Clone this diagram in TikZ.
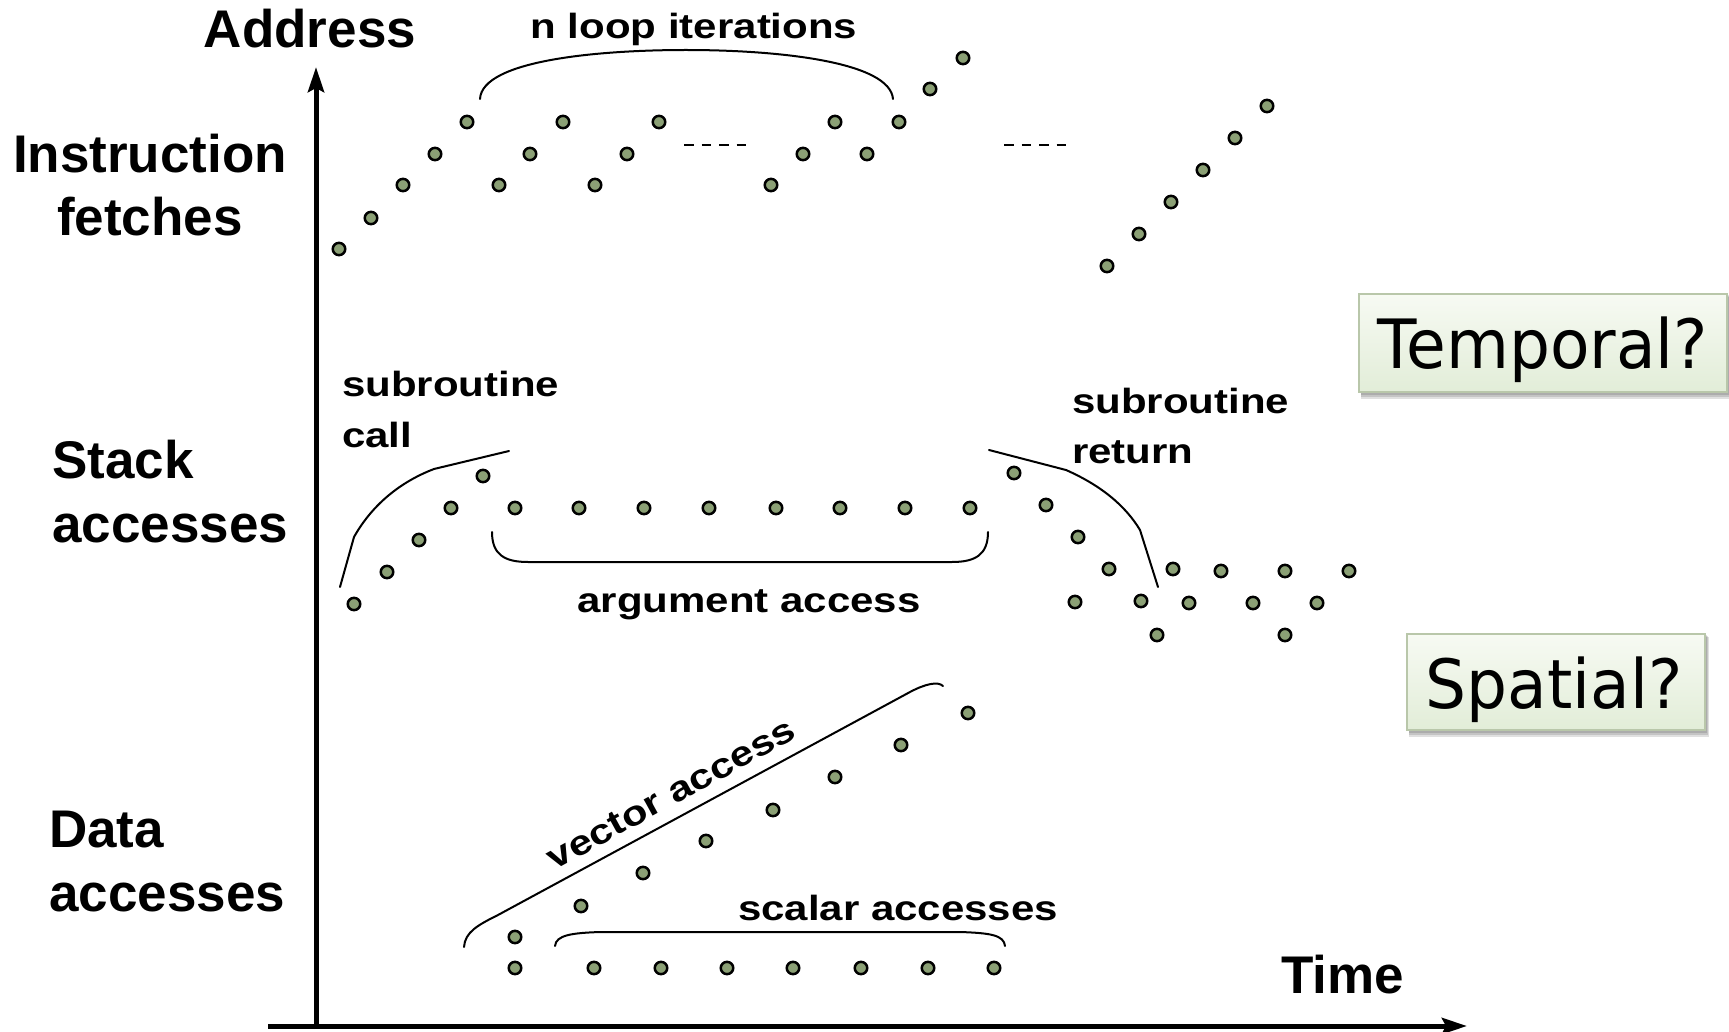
\documentclass[tikz,border=0pt]{standalone}
\usepackage{fontspec}
\setmainfont{Liberation Sans}
\newfontfamily\widefont[FakeStretch=1.2]{Liberation Sans}
\newfontfamily\boxfont[FakeStretch=0.95]{DejaVu Sans}
\usetikzlibrary{shapes.geometric,arrows.meta}

\definecolor{dotfill}{RGB}{139,160,117}
\definecolor{boxedge}{RGB}{185,199,170}
\definecolor{boxtop}{RGB}{247,250,243}
\definecolor{boxbot}{RGB}{226,237,216}

\tikzset{
  access/.style={ellipse, draw=black, line width=2.5pt, fill=dotfill,
    minimum width=12.5pt, minimum height=12.3pt, inner sep=0pt, outer sep=0pt},
  rowlabel/.style={font=\fontsize{53}{60}\selectfont\bfseries, inner sep=0pt},
  note/.style={font=\widefont\fontsize{35}{42}\selectfont\bfseries, inner sep=0pt},
  brace/.style={line width=2pt, line cap=round},
  gap/.style={line width=2.7pt, dash pattern=on 9.5pt off 8pt},
  axis/.style={line width=5pt, -{Stealth[length=25pt, width=16pt, inset=4pt]}},
  question/.style={font=\boxfont\fontsize{68}{80}\selectfont, inner sep=0pt, anchor=base},
  qbox/.style={top color=boxtop, bottom color=boxbot, draw=boxedge, line width=1.5pt},
  qshadow/.style={fill=black, opacity=0.12},
}

\begin{document}
\begin{tikzpicture}[x=1pt, y=-1pt]
\useasboundingbox (0,0) rectangle (1729,1032);
\fill[white] (0,0) rectangle (1729,1032);

% axes
\coordinate (origin) at (316,1026);
\coordinate (ytip) at (316,67);
\coordinate (xstart) at (268,1026);
\coordinate (xtip) at (1467,1026);
\draw[axis] (316,1029) -- (ytip);
\draw[axis] (xstart) -- (xtip);

\node[rowlabel, anchor=base] (address) at (310,48) {Address};
\node[rowlabel, anchor=base west] (time) at (1281,993) {Time};

% row labels
\node[rowlabel, anchor=base] (instr1) at (150,173) {Instruction};
\node[rowlabel, anchor=base] (instr2) at (150,236) {fetches};
\node[rowlabel, anchor=base west] (stack1) at (52,478) {Stack};
\node[rowlabel, anchor=base west] (stack2) at (52,542) {accesses};
\node[rowlabel, anchor=base west] (data1) at (49,847) {Data};
\node[rowlabel, anchor=base west] (data2) at (49,911) {accesses};

% instruction fetches
\foreach \x/\y [count=\i] in {339/249,371/218,403/185,435/154,467/122,
  499/185,530/154,563/122,595/185,627/154,659/122,
  771/185,803/154,835/122,867/154,899/122,930/89,963/58,
  1107/266,1139/234,1171/202,1203/170,1235/138,1267/106}
  \node[access] (fetch\i) at (\x,\y) {};
\draw[gap] (684,145) -- (746,145);
\draw[gap] (1004,145) -- (1066,145);
\draw[brace] (480,99) .. controls (482,60) and (600,50) .. (686,50)
  .. controls (780,50) and (890,62) .. (893,99);
\node[note, anchor=base] (loops) at (694,39) {n loop iterations};

% stack accesses
\foreach \x/\y [count=\i] in {354/604,387/572,419/540,451/508,483/476,
  515/508,579/508,644/508,709/508,776/508,840/508,905/508,970/508,
  1014/473,1046/505,1078/537,1109/569,1075/602,1141/601,1157/635,
  1173/569,1189/603,1221/571,1253/603,1285/571,1285/635,1317/603,1349/571}
  \node[access] (stack\i) at (\x,\y) {};
\draw[brace] (340,587) -- (354,537) .. controls (372,505) and (400,482) .. (434,469)
  -- (509,451);
\draw[brace] (989,450) -- (1066,470) .. controls (1100,485) and (1125,505) .. (1140,530)
  -- (1158,587);
\draw[brace] (492,532) .. controls (492,555) and (505,562) .. (528,562) -- (952,562)
  .. controls (975,562) and (988,555) .. (988,532);
\node[note, anchor=base west] (call1) at (342,396) {subroutine};
\node[note, anchor=base west] (call2) at (342,447) {call};
\node[note, anchor=base west] (ret1) at (1072,413) {subroutine};
\node[note, anchor=base west] (ret2) at (1072,463) {return};
\node[note, anchor=base] (argument) at (749,612) {argument access};

% data accesses
\foreach \x/\y [count=\i] in {515/968,594/968,661/968,727/968,793/968,861/968,928/968,994/968,
  515/937,581/906,643/873,706/841,773/810,835/777,901/745,968/713}
  \node[access] (data\i) at (\x,\y) {};
\draw[brace] (464,947) .. controls (465,932) and (478,925) .. (498,915) -- (910,692)
  .. controls (925,684) and (938,681) .. (943,686);
\draw[brace] (555,946) .. controls (556,935) and (572,933) .. (600,932) -- (960,932)
  .. controls (990,933) and (1004,935) .. (1005,946);
\node[note, rotate=28.7] (vector) at (671,794) {vector access};
\node[note, anchor=base] (scalar) at (898,920) {scalar accesses};

% question boxes
\fill[qshadow] (1361,297) rectangle (1731,399);
\fill[qshadow] (1361,296) rectangle (1730,397);
\fill[qshadow] (1361,295) rectangle (1729,395);
\shadedraw[qbox] (1359,294) rectangle (1727,392);
\node[question] (temporal) at (1543,368) {Temporal?};

\fill[qshadow] (1409,637) rectangle (1709,737);
\fill[qshadow] (1409,636) rectangle (1708,735);
\fill[qshadow] (1409,635) rectangle (1707,733);
\shadedraw[qbox] (1407,634) rectangle (1705,730);
\node[question] (spatial) at (1554,708) {Spatial?};
\end{tikzpicture}
\end{document}
